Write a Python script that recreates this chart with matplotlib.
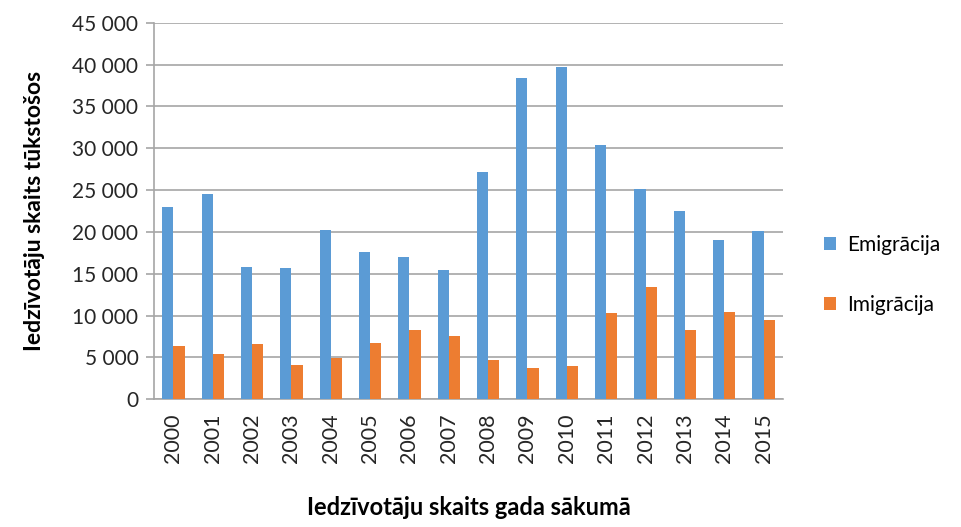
from matplotlib import pyplot as plt
from matplotlib.ticker import FuncFormatter
import numpy as np

years = ['2000', '2001', '2002', '2003', '2004', '2005', '2006', '2007',
         '2008', '2009', '2010', '2011', '2012', '2013', '2014', '2015']
emigration = [22940, 24530, 15770, 15650, 20230, 17640, 17000, 15490,
              27120, 38350, 39660, 30350, 25130, 22540, 19040, 20070]
immigration = [6410, 5380, 6570, 4140, 4980, 6770, 8280, 7530,
               4740, 3700, 3980, 10270, 13380, 8280, 10430, 9520]

BLUE = '#5b9bd5'
ORANGE = '#ed7d31'
GRID = '#a6a6a6'

plt.rcParams['font.family'] = ['Lato', 'DejaVu Sans']

fig = plt.figure(figsize=(9.61, 5.27), dpi=100)
ax = fig.add_axes([0.160, 0.2423, 0.655, 0.7147])

x = np.arange(len(years))
w = 0.286
ax.bar(x - w / 2, emigration, w, color=BLUE, label='Emigrācija', zorder=3)
ax.bar(x + w / 2, immigration, w, color=ORANGE, label='Imigrācija', zorder=3)

ax.set_xlim(-0.5, len(years) - 0.5)
ax.set_ylim(0, 45000)
ax.set_yticks(range(0, 45001, 5000))
ax.yaxis.set_major_formatter(FuncFormatter(lambda v, p: f'{v:,.0f}'.replace(',', ' ')))
ax.set_xticks(x)
ax.set_xticklabels(years, rotation=90)

ax.grid(axis='y', color=GRID, linewidth=1.2, zorder=0)
for s in ['top', 'right']:
    ax.spines[s].set_visible(False)
ax.spines['left'].set_color(GRID)
ax.spines['bottom'].set_color(GRID)
ax.spines['left'].set_linewidth(1.2)
ax.spines['bottom'].set_linewidth(1.2)
ax.tick_params(axis='y', length=6, width=1.2, labelsize=15, labelcolor='#262626', color=GRID, pad=5)
ax.tick_params(axis='x', length=0, labelsize=15.5, pad=10, labelcolor='#262626')

ax.set_ylabel('Iedzīvotāju skaits tūkstošos', fontsize=16.5, fontweight='bold', labelpad=20)
ax.set_xlabel('Iedzīvotāju skaits gada sākumā', fontsize=17, fontweight='bold', labelpad=24)

ax.legend(loc='center left', bbox_to_anchor=(1.035, 0.33), frameon=False,
          fontsize=15, handlelength=0.6, handleheight=0.6, labelspacing=1.9,
          handletextpad=0.5)

plt.savefig('out.png', dpi=100)
